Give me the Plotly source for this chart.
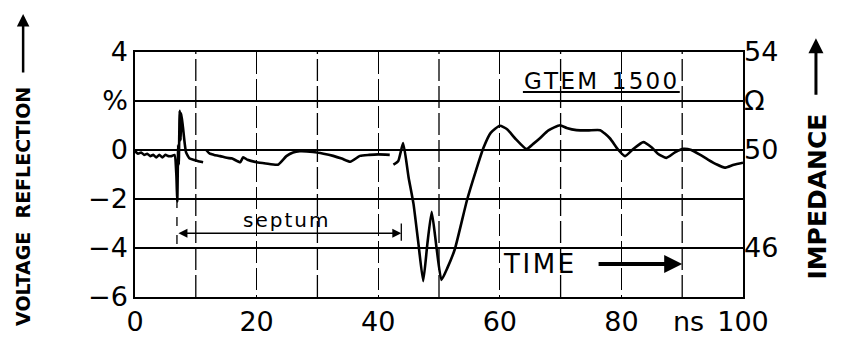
import plotly.graph_objects as go

# ---- data ----
seg1_t = [0, 0.5, 1, 1.5, 2, 2.5, 3, 3.5, 4, 4.5, 5, 5.5, 6, 6.5, 6.8, 6.95, 7.1, 7.2, 7.35, 7.5, 7.6, 7.9, 8.4, 9.0, 9.6, 10.3, 11.2]
seg1_v = [-0.05, -0.15, -0.1, -0.2, -0.15, -0.25, -0.2, -0.3, -0.2, -0.3, -0.2, -0.25, -0.25, -0.2, -1.0, -2.1, 0.2, -0.6, 1.6, 0.4, 1.5, 0.9, -0.1, -0.35, -0.4, -0.45, -0.5]

seg2_t = [11.7, 12.3, 13, 14, 15.1, 16, 17.3, 17.8, 18.5, 20, 21.5, 23.5, 24.9, 26, 27.1, 29.3, 31, 32.6, 34, 35.4, 37, 38.5, 40, 41.9]
seg2_v = [0.0, -0.15, -0.2, -0.25, -0.32, -0.35, -0.5, -0.3, -0.4, -0.5, -0.55, -0.6, -0.25, -0.1, -0.05, -0.08, -0.15, -0.24, -0.35, -0.48, -0.24, -0.2, -0.18, -0.2]

seg3_t = [42.5, 43.3, 44.1, 45.0, 45.8, 46.6, 47.4, 48.1, 48.8, 49.6, 50.4, 51.4, 52.6, 54.6, 56, 57.3, 58.5, 60, 61.2, 62.5, 64.4, 65.5, 66.6, 68, 69.9, 71, 72.6, 74.5, 76.5, 78.1, 79.5, 80.6, 82, 83.6, 85, 86, 87.4, 88.8, 90.2, 91.5, 92.9, 94.3, 95.7, 97, 98.5, 100]
seg3_v = [-0.6, -0.45, 0.28, -1.12, -2.19, -3.79, -5.35, -3.8, -2.52, -4.0, -5.3, -4.8, -4.05, -2.05, -0.9, 0.08, 0.7, 0.99, 0.85, 0.48, 0.04, 0.25, 0.48, 0.8, 1.01, 0.9, 0.81, 0.8, 0.81, 0.48, 0.0, -0.25, 0.05, 0.32, 0.1, -0.15, -0.32, -0.1, 0.05, 0.0, -0.19, -0.4, -0.59, -0.72, -0.6, -0.52]

x_ticks = [0, 20, 40, 60, 80, 100]
x_ticklabels = ["0", "20", "40", "60", "80", "100"]
x_minor_grid = [10, 30, 50, 70, 90]
y_ticks = [-6, -4, -2, 0, 2, 4]
y_ticklabels = ["\u22126", "\u22124", "\u22122", "0", "%", "4"]
y2_ticks = [46, 50, 52, 54]
y2_ticklabels = ["46", "50", "\u03A9", "54"]

septum_span = [6.9, 43.8]
septum_y = -3.4
time_arrow = [76, 90]
gtem_span = [63.8, 89.6]

FONT = "DejaVu Sans"
HS = "\u200a"  # hair space for letter spacing

t_all = seg1_t + [None] + seg2_t + [None] + seg3_t
v_all = seg1_v + [None] + seg2_v + [None] + seg3_v

fig = go.Figure()
fig.add_trace(go.Scatter(x=t_all, y=v_all, mode="lines",
                         line=dict(color="black", width=2.6, shape="spline", smoothing=0.5),
                         connectgaps=False, showlegend=False, hoverinfo="skip"))
fig.add_trace(go.Scatter(x=[None], y=[None], yaxis="y2", showlegend=False, hoverinfo="skip"))

GRID_DASH = "22px,5px"

fig.update_layout(
    width=841, height=349,
    margin=dict(l=135, r=98, t=52, b=47),
    paper_bgcolor="white", plot_bgcolor="white",
    font=dict(family=FONT, color="black", size=26),
    xaxis=dict(range=[0, 100], tickvals=x_ticks, ticktext=x_ticklabels, tickmode="array",
               showgrid=True, gridcolor="black", gridwidth=1.3, griddash=GRID_DASH,
               showline=True, linecolor="black", linewidth=1.5, mirror=True,
               zeroline=False, ticks="", tickfont=dict(size=27)),
    yaxis=dict(range=[-6, 4], tickvals=y_ticks, ticktext=y_ticklabels,
               showgrid=True, gridcolor="black", gridwidth=1.5,
               showline=True, linecolor="black", linewidth=1.5, mirror=True,
               zeroline=False, ticks="", tickfont=dict(size=27)),
    yaxis2=dict(range=[44, 54], overlaying="y", side="right",
                tickvals=y2_ticks, ticktext=y2_ticklabels,
                showgrid=False, zeroline=False, showline=False, ticks="",
                tickfont=dict(size=27)),
)

# vertical grid at the odd tens (dashed)
for gx in x_minor_grid:
    fig.add_shape(type="line", x0=gx, x1=gx, y0=-6, y1=4, xref="x", yref="y",
                  line=dict(color="black", width=1.3, dash=GRID_DASH))

# septum marker
fig.add_shape(type="line", x0=septum_span[0], x1=septum_span[0], y0=-2, y1=-4.1,
              line=dict(color="black", width=1.3, dash="dash"))
fig.add_shape(type="line", x0=septum_span[1], x1=septum_span[1], y0=-3.0, y1=-3.7,
              line=dict(color="black", width=1.3))
fig.add_annotation(x=septum_span[1], y=septum_y, ax=septum_span[0], ay=septum_y,
                   xref="x", yref="y", axref="x", ayref="y", text="",
                   showarrow=True, arrowhead=2, arrowside="end+start", arrowwidth=1.5,
                   arrowsize=1.2, arrowcolor="black")
fig.add_annotation(x=24.7, y=-2.85, xref="x", yref="y", text=HS.join("septum"),
                   showarrow=False, font=dict(size=20))

# GTEM label
fig.add_annotation(x=76.5, y=2.8, xref="x", yref="y", text=HS.join("GTEM") + "  " + HS.join("1500"),
                   showarrow=False, font=dict(size=23))
fig.add_shape(type="line", x0=gtem_span[0], x1=gtem_span[1], y0=2.37, y1=2.37,
              line=dict(color="black", width=2))

# TIME arrow
fig.add_annotation(x=66.3, y=-4.65, xref="x", yref="y", text=HS.join("TIME"),
                   showarrow=False, font=dict(size=26))
fig.add_annotation(x=time_arrow[1], y=-4.65, ax=time_arrow[0], ay=-4.65,
                   xref="x", yref="y", axref="x", ayref="y", text="",
                   showarrow=True, arrowhead=2, arrowwidth=4, arrowsize=0.9,
                   arrowcolor="black")

# ns label
fig.add_annotation(x=91.1, y=-6, xref="x", yref="y", yanchor="top", yshift=-7,
                   text="ns", showarrow=False, font=dict(size=27))

# side axis titles with arrows
fig.add_annotation(x=-0.184, y=0.368, xref="paper", yref="paper",
                   xanchor="center", yanchor="middle",
                   text="<b>VOLTAGE  REFLECTION</b>", textangle=-90,
                   showarrow=False, font=dict(size=19))
fig.add_annotation(x=-0.184, y=1.155, xref="paper", yref="paper", text="",
                   ax=0, ay=60, showarrow=True, arrowhead=2, arrowwidth=2.5,
                   arrowsize=1, arrowcolor="black")
fig.add_annotation(x=1.121, y=0.408, xref="paper", yref="paper",
                   xanchor="center", yanchor="middle",
                   text="<b>IMPEDANCE</b>", textangle=-90,
                   showarrow=False, font=dict(size=25))
fig.add_annotation(x=1.12, y=1.056, xref="paper", yref="paper", text="",
                   ax=0, ay=58, showarrow=True, arrowhead=2, arrowwidth=3,
                   arrowsize=1, arrowcolor="black")

fig.write_html("out.html")
